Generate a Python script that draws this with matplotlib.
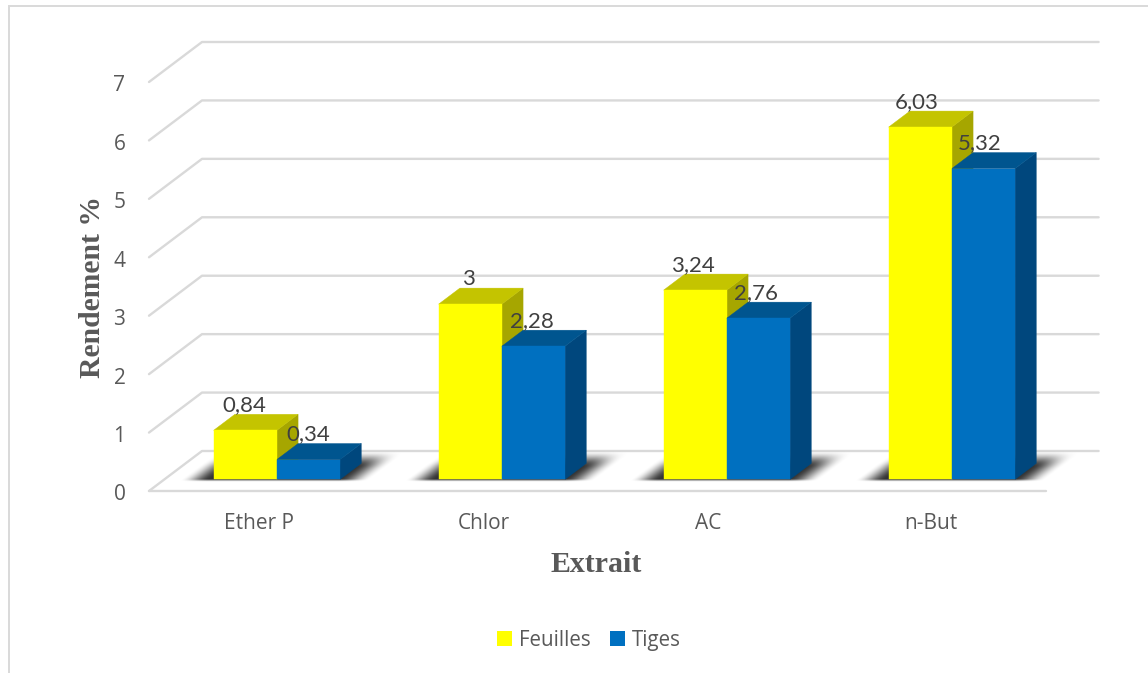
import matplotlib
matplotlib.use("Agg")
import matplotlib.pyplot as plt
import numpy as np
from matplotlib.patches import Polygon, Patch, Rectangle
from matplotlib.transforms import ScaledTranslation

categories = ["Ether P", "Chlor", "AC", "n-But"]
feuilles = [0.84, 3, 3.24, 6.03]
tiges = [0.34, 2.28, 2.76, 5.32]
value_labels_feuilles = ["0,84", "3", "3,24", "6,03"]
value_labels_tiges = ["0,34", "2,28", "2,76", "5,32"]
y_ticks = [0, 1, 2, 3, 4, 5, 6, 7]
x_tick_positions = [0.49, 1.49, 2.485, 3.475]

W, H = 1148, 673
LEFT, RIGHT, Y0, Y7 = 149, 1049, 491, 82
UX = (RIGHT - LEFT) / 4
UY = (Y0 - Y7) / 7
DEPTH_X, DEPTH_Y = 53, 40
GRID_END = 3.985


def proj(x, y, d):
    """Oblique projection: depth d (0 front, 1 back) shifts a point up and right."""
    return (x + d * DEPTH_X / UX, y + d * DEPTH_Y / UY)


fig = plt.figure(figsize=(W / 100, H / 100), dpi=100, facecolor="white")
fig.add_artist(Rectangle((9 / W, -0.02), 1.2, 1 - 5.5 / H + 0.02, transform=fig.transFigure,
                         fill=False, edgecolor="#d9d9d9", linewidth=1.4))
ax = fig.add_axes([LEFT / W, 1 - Y0 / H, (RIGHT - LEFT) / W, (Y0 - Y7) / H])
ax.patch.set_visible(False)
for s in ax.spines.values():
    s.set_visible(False)

# Walls and floor gridlines
GRID = dict(color="#d9d9d9", lw=1.7, solid_capstyle="round", solid_joinstyle="round",
            clip_on=False, zorder=1)
for v in y_ticks:
    a, b, c = proj(0, v, 0), proj(0, v, 1), proj(GRID_END, v, 1)
    ax.plot([a[0], b[0], c[0]], [a[1], b[1], c[1]], **GRID)
ax.plot([0, GRID_END], [0, 0], **GRID)

# Bars
BAR_W = 63.2 / UX
D0, D1 = 0.29, 0.69


def poly(pts, color, z):
    ax.add_patch(Polygon(pts, closed=True, facecolor=color, edgecolor=color, lw=0.3,
                         clip_on=False, zorder=z))


def box(x0, x1, h, front, top, side, z):
    poly([proj(x1, 0, D0), proj(x1, h, D0), proj(x1, h, D1), proj(x1, 0, D1)], side, z)
    poly([proj(x0, h, D0), proj(x1, h, D0), proj(x1, h, D1), proj(x0, h, D1)], top, z)
    poly([proj(x0, 0, D0), proj(x1, 0, D0), proj(x1, h, D0), proj(x0, h, D0)], front, z)


def smooth(t):
    t = np.clip(t, 0, 1)
    return t * t * (3 - 2 * t)


def shadow(x0, x1):
    # Soft floor shadow, rendered as a small alpha map sheared along the depth axis
    w = (x1 - x0) * UX
    px = np.arange(-50, w + 90, 1.0)
    py = np.arange(-6, 36, 1.0)          # pixels above the front base of the bars
    gx, gy = np.meshgrid(px, py)
    u = gx - gy * DEPTH_X / DEPTH_Y      # unsheared horizontal position
    ax_a = smooth((u + 33) / 30) * smooth((w + 31 - u) / 32)
    ay_a = smooth((gy + 3.2) / 3.2) * smooth((29 - gy) / 17)
    rgba = np.zeros(gx.shape + (4,))
    rgba[..., 3] = 0.8 * ax_a * ay_a
    bx = x0 + D0 * DEPTH_X / UX
    by = D0 * DEPTH_Y / UY
    ax.imshow(rgba, origin="lower", aspect="auto", interpolation="bilinear", zorder=1.5,
              clip_on=False,
              extent=(bx + px[0] / UX, bx + px[-1] / UX, by + py[0] / UY, by + py[-1] / UY))


for i, cat in enumerate(categories):
    x_mid = i + 0.5
    shadow(x_mid - BAR_W, x_mid + BAR_W)
    box(x_mid - BAR_W, x_mid, feuilles[i], "#ffff00", "#c4c400", "#a6a600", 2)
    box(x_mid, x_mid + BAR_W, tiges[i], "#0070c0", "#00558f", "#00477d", 3)
    for x_c, val, lab in ((x_mid - BAR_W / 2, feuilles[i], value_labels_feuilles[i]),
                          (x_mid + BAR_W / 2, tiges[i], value_labels_tiges[i])):
        ax.annotate(lab, xy=proj(x_c, val, D0), xytext=(-0.5 - i, 25), textcoords="offset pixels",
                    ha="center", va="center", fontsize=16, family="Lato", color="#404040",
                    zorder=5, annotation_clip=False)

ax.set_xlim(0, 4)
ax.set_ylim(0, 7)

# Axes labels and ticks
ax.set_xticks(x_tick_positions, categories)
ax.set_yticks(y_ticks)
ax.tick_params(axis="both", length=0, labelcolor="#595959", labelsize=15)
ax.tick_params(axis="x", pad=16)
ax.tick_params(axis="y", pad=17)
down = ScaledTranslation(0, -1.0 / 72, fig.dpi_scale_trans)
for t in ax.get_xticklabels() + ax.get_yticklabels():
    t.set_family("Open Sans")
for t in ax.get_yticklabels():
    t.set_transform(t.get_transform() + down)
ax.set_xlabel("Extrait", family="Liberation Serif", weight="bold", fontsize=21.5,
              color="#595959", va="center")
ax.xaxis.set_label_coords((596 - LEFT) / (RIGHT - LEFT), (Y0 - 564) / (Y0 - Y7))
ax.set_ylabel("Rendement %", family="Liberation Serif", weight="bold", fontsize=21.3,
              color="#595959", va="center")
ax.yaxis.set_label_coords((92 - LEFT) / (RIGHT - LEFT), (Y0 - 287) / (Y0 - Y7))

handles = [Patch(facecolor="#ffff00", label="Feuilles"), Patch(facecolor="#0070c0", label="Tiges")]
fig.legend(handles=handles, loc="center", bbox_to_anchor=(589 / W, 1 - 640.5 / H), ncol=2,
           frameon=False, handlelength=0.75, handleheight=0.75, handletextpad=0.35,
           columnspacing=0.9, prop={"family": "Open Sans", "size": 14.8}, labelcolor="#595959")

fig.savefig("out.png", dpi=100, facecolor="white")
